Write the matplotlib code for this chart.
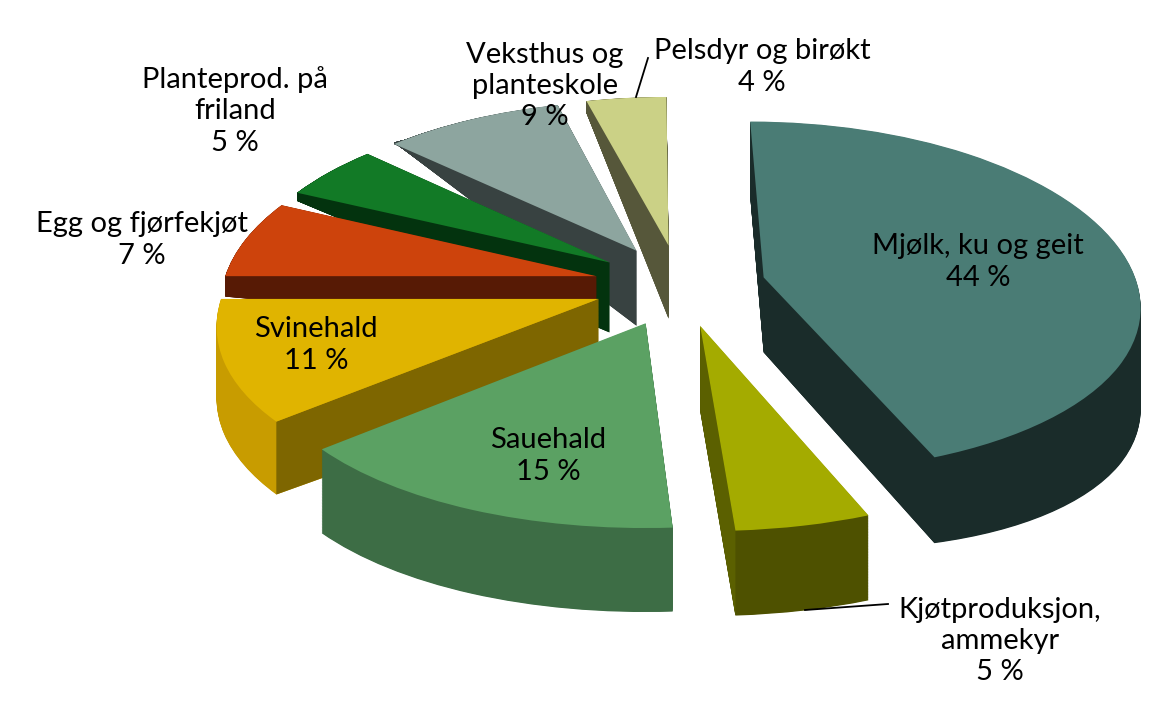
import matplotlib
matplotlib.use("Agg")
import matplotlib.pyplot as plt
import matplotlib.transforms as mtransforms
from matplotlib.patches import Wedge, Polygon
from matplotlib.lines import Line2D
import numpy as np

# ---- data ----
categories = ["Mjølk, ku og geit", "Kjøtproduksjon,\nammekyr", "Sauehald", "Svinehald",
              "Egg og fjørfekjøt", "Planteprod. på\nfriland", "Veksthus og\nplanteskole",
              "Pelsdyr og birøkt"]
values = [44, 5, 15, 11, 7, 5, 9, 4]
top_colors = ["#4a7c75", "#a4ab00", "#5ba163", "#e0b400",
              "#cd430c", "#127a26", "#8da59f", "#cbd186"]
side_colors = ["#1a2c2a", "#4e5100", "#3d6d45", "#c89c00",
               "#571a05", "#03330e", "#384241", "#56573a"]   # outer curved wall
face_colors = ["#1a2c2a", "#5b6000", "#3a6a42", "#7e6600",
               "#571a05", "#03330e", "#384241", "#56573a"]   # radial cut face

# ---- style / layout ----
label_pos = [(978, 262), (1000, 641), (548, 456), (316, 345),
             (142, 240), (235, 111), (545, 86), (762, 67)]
depth_apex = [75, 85, 84, 80, 55, 70, 75, 73]
depth_rim = [100, 85, 84, 72, 22, 13, 12, 15]

W, H = 1165, 714
K = 0.467
R = 375
CX, CY = 680, 285
EXPLODE = 0.23
QA, QB = 0.011, 0.000636
PX0, PY0, PC = 650, 290, 0.00075     # horizontal perspective
NLAYERS = 140

def q(wd):
    u = wd - CY
    return CY + (1 + QA) * u + QB * u * u

def qinv(sd):
    disc = np.maximum((1 + QA) ** 2 + 4 * QB * (sd - CY), 1e-9)
    return CY + (-(1 + QA) + np.sqrt(disc)) / (2 * QB)

def fwd(y):
    y = np.asarray(y, float)
    return H - q(H - K * y)

def inv(s):
    s = np.asarray(s, float)
    return (H - qinv(H - s)) / K


class Persp(mtransforms.Transform):
    input_dims = 2
    output_dims = 2
    is_separable = False
    has_inverse = False

    def transform_non_affine(self, values):
        v = np.array(values, float)
        yd = H - v[:, 1]
        s = 1 + PC * (yd - PY0)
        v[:, 0] = PX0 + (v[:, 0] - PX0) * s
        return v


persp = Persp()

fig = plt.figure(figsize=(W / 100, H / 100), dpi=100)
ax = fig.add_axes([0, 0, 1, 1])

center = (CX, (H - CY) / K)
explode = [EXPLODE * R] * len(values)

top_wedges, _ = ax.pie(values, colors=top_colors, startangle=90, counterclock=False,
                       explode=explode, radius=R, center=center,
                       wedgeprops=dict(linewidth=0, antialiased=True))

ax.set_aspect("auto")
ax.set_yscale("function", functions=(fwd, inv))
ax.set_xlim(0, W)
ax.set_ylim(float(inv(0)), float(inv(H)))
ax.axis("off")

mids = [np.deg2rad((w.theta1 + w.theta2) / 2) for w in top_wedges]
order = np.argsort([-np.sin(m) for m in mids])
rank = {int(i): r for r, i in enumerate(order)}

def to_px(pts):
    d = persp.transform(ax.transData.transform(np.asarray(pts, float)))
    return np.column_stack([d[:, 0], H - d[:, 1]])

def layer_affine(t, gx, gy, d0):
    return mtransforms.Affine2D(np.array([[1, 0, 0],
                                          [-t * gx, 1 + t * gy, -t * (d0 + gy * H)],
                                          [0, 0, 1]]))

for i, w in enumerate(top_wedges):
    z0 = rank[i] * 100
    w.set_zorder(z0 + 99)
    w.set_transform(ax.transData + persp)
    cxw, cyw = w.center
    r = w.r
    t1, t2 = np.deg2rad(w.theta1), np.deg2rad(w.theta2)
    m = mids[i]
    A, M, C1, C2 = to_px([(cxw, cyw),
                          (cxw + r * np.cos(m), cyw + r * np.sin(m)),
                          (cxw + r * np.cos(t1), cyw + r * np.sin(t1)),
                          (cxw + r * np.cos(t2), cyw + r * np.sin(t2))])
    v = M - A
    L2 = v @ v
    dA, dR = depth_apex[i], depth_rim[i]
    gx = (dR - dA) * v[0] / L2
    gy = (dR - dA) * v[1] / L2
    d0 = dA - gx * A[0] - gy * A[1]

    for j, t in enumerate(np.linspace(1, 0, NLAYERS, endpoint=False)):
        lw = Wedge((cxw, cyw), r, w.theta1, w.theta2, facecolor=side_colors[i],
                   linewidth=0, zorder=z0 + 1 + j * 0.3)
        lw.set_transform(ax.transData + persp + layer_affine(t, gx, gy, d0))
        ax.add_patch(lw)

    def depth(P):
        return d0 + gx * P[0] + gy * P[1]
    for Cc in (C1, C2):
        e = Cc - A
        cr_body = e[0] * (M - A)[1] - e[1] * (M - A)[0]
        if np.sign(cr_body) != np.sign(e[0]) and abs(e[0]) > 1:
            quad = np.array([A, Cc, Cc + [0, depth(Cc)], A + [0, depth(A)]])
            disp = np.column_stack([quad[:, 0], H - quad[:, 1]])
            ax.add_patch(Polygon(disp, closed=True, facecolor=face_colors[i], linewidth=0,
                                 transform=mtransforms.IdentityTransform(), zorder=z0 + 60))

for name, v, (x, y) in zip(categories, values, label_pos):
    fig.text(x / W, 1 - y / H, f"{name}\n{v} %", ha="center", va="center", fontsize=21,
             family=["Lato", "DejaVu Sans"], linespacing=1.25, color="black", zorder=5)

for (x0, y0), (x1, y1) in [((636, 97), (648, 58)), ((805, 610), (888, 604))]:
    fig.add_artist(Line2D([x0 / W, x1 / W], [1 - y0 / H, 1 - y1 / H],
                          transform=fig.transFigure, color="black", lw=1.3, zorder=5))

fig.savefig("out.png", dpi=100, facecolor="white")
